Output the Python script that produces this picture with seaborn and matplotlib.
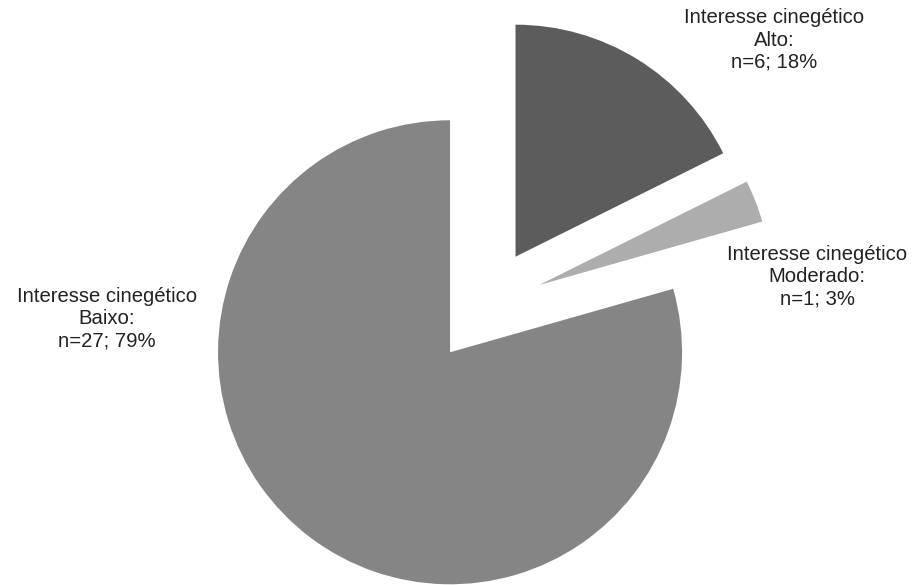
import matplotlib
matplotlib.use("Agg")
import matplotlib.pyplot as plt
import seaborn as sns

# Hunting interest of the recorded species
categorias = ["Alto", "Moderado", "Baixo"]
contagens = [6, 1, 27]
cores = ["#5c5c5c", "#adadad", "#858585"]

sns.set_theme(style="white")
plt.rcParams["font.family"] = ["Liberation Sans", "DejaVu Sans"]

W, H = 917, 585
R = 232.0          # pie radius in pixels
cx, cy = 485, 306  # pie centre in pixels (from the top-left corner)

fig = plt.figure(figsize=(W / 100, H / 100), dpi=100)
ax = fig.add_axes([0, 0, 1, 1])

ax.pie(contagens, colors=cores, startangle=90, counterclock=False,
       explode=[0.25, 0.25, 0.25], radius=1.0, center=(0, 0),
       wedgeprops=dict(linewidth=0))

# pie() resets the limits, so fix the pixel frame afterwards
ax.set_xlim(-cx / R, (W - cx) / R)
ax.set_ylim((cy - H) / R, cy / R)
ax.set_aspect("equal")
ax.axis("off")

total = sum(contagens)
rotulos = [f"Interesse cinegético\n{c}:\nn={n}; {round(100 * n / total)}%"
           for c, n in zip(categorias, contagens)]

# label centres in pixels
pos_rotulos = [(774, 40), (817, 277), (107, 319)]
for txt, (px, py) in zip(rotulos, pos_rotulos):
    ax.text((px - cx) / R, (cy - py) / R, txt, ha="center", va="center",
            fontsize=14.6, color="#222222", linespacing=1.22)

fig.savefig("out.png", dpi=100, facecolor="white")
